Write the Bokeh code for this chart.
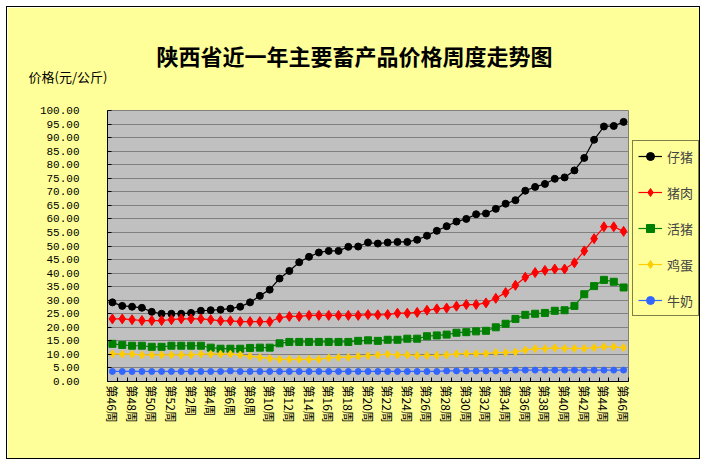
from bokeh.plotting import figure
from bokeh.models import (ColumnDataSource, FixedTicker, Legend, LegendItem, Title, Label,
                          NumeralTickFormatter, Range1d)
from bokeh.embed import file_html
from bokeh.resources import INLINE

weeks = [46, 47, 48, 49, 50, 51, 52, 1, 2, 3, 4, 5, 6, 7, 8, 9, 10, 11, 12, 13, 14, 15, 16,
         17, 18, 19, 20, 21, 22, 23, 24, 25, 26, 27, 28, 29, 30, 31, 32, 33, 34, 35, 36, 37,
         38, 39, 40, 41, 42, 43, 44, 45, 46]

piglet = [29.2, 27.9, 27.6, 27.2, 25.7, 25.0, 25.0, 25.0, 25.3, 26.1, 26.3, 26.5, 26.9, 27.6,
          29.2, 31.6, 33.9, 38.0, 40.8, 44.0, 46.0, 47.6, 48.2, 48.2, 49.7, 49.8, 51.3,
          50.9, 51.3, 51.5, 51.5, 52.3, 53.8, 55.6, 57.3, 59.0, 60.0, 61.7, 62.0, 63.7, 65.6,
          66.9, 70.4, 71.8, 72.9, 74.8, 75.3, 77.9, 82.5, 89.2, 94.1, 94.3, 95.8]
pork = [23.1, 23.1, 22.8, 22.5, 22.5, 22.5, 22.8, 23.1, 23.1, 23.1, 22.8, 22.4, 22.4, 22.1,
        22.1, 22.1, 22.1, 23.5, 24.0, 24.0, 24.4, 24.4, 24.4, 24.4, 24.4, 24.4, 24.7,
        24.6, 24.7, 25.2, 25.2, 25.5, 26.3, 26.8, 27.1, 27.8, 28.4, 28.4, 29.0, 30.7, 32.8,
        35.5, 38.5, 40.2, 41.0, 41.5, 41.5, 43.8, 48.2, 52.7, 57.1, 57.1, 55.4]
hog = [13.9, 13.5, 13.2, 13.2, 12.8, 12.8, 13.2, 13.2, 13.2, 13.2, 12.5, 12.1, 12.1, 12.1,
       12.4, 12.5, 12.5, 14.1, 14.6, 14.6, 14.6, 14.6, 14.6, 14.6, 14.6, 15.0, 15.2,
       15.0, 15.4, 15.4, 15.8, 15.8, 16.7, 17.0, 17.3, 18.0, 18.2, 18.5, 18.7, 20.0, 21.3,
       23.1, 24.6, 25.0, 25.3, 26.1, 26.3, 27.9, 32.2, 35.2, 37.5, 36.8, 34.7]
egg = [10.2, 10.1, 10.1, 9.8, 9.8, 9.8, 9.8, 9.8, 9.8, 10.1, 10.1, 10.1, 10.1, 9.8,
       9.3, 8.9, 8.5, 8.2, 8.2, 8.2, 8.2, 8.2, 8.7, 8.9, 8.9, 9.3, 9.5,
       9.8, 10.1, 9.8, 9.8, 9.6, 9.6, 9.6, 9.8, 10.2, 10.3, 10.3, 10.3, 10.7, 10.7,
       10.9, 11.6, 12.1, 12.1, 12.4, 12.2, 12.2, 12.2, 12.5, 12.8, 12.8, 12.5]
milk = [3.7, 3.7, 3.7, 3.7, 3.7, 3.7, 3.7, 3.7, 3.7, 3.7, 3.7, 3.7, 3.9, 3.7,
        3.7, 3.7, 3.7, 3.7, 3.7, 3.7, 3.7, 3.7, 3.7, 3.7, 3.7, 3.7, 3.7,
        3.7, 3.7, 3.7, 3.7, 3.7, 3.7, 3.7, 3.9, 3.9, 3.9, 3.9, 3.9, 3.9, 3.9,
        4.2, 4.2, 4.2, 4.2, 4.2, 4.2, 4.2, 4.2, 4.2, 4.2, 4.2, 4.2]

series_names = ["仔猪", "猪肉", "活猪", "鸡蛋", "牛奶"]
y_ticks = [0, 5, 10, 15, 20, 25, 30, 35, 40, 45, 50, 55, 60, 65, 70, 75, 80, 85, 90, 95, 100]

title_text = "陕西省近一年主要畜产品价格周度走势图"
ylabel_text = "价格(元/公斤)"

BG = "#FFFF99"
FONT = "Noto Sans CJK SC"

idx = list(range(len(weeks)))
src = ColumnDataSource(dict(x=idx, piglet=piglet, pork=pork, hog=hog, egg=egg, milk=milk))

p = figure(frame_width=521, frame_height=271, output_backend="svg", toolbar_location=None,
           x_range=Range1d(-0.5, len(weeks) - 0.5), y_range=Range1d(0, 100),
           min_border_left=100, min_border_right=75, min_border_top=103, min_border_bottom=81)
p.background_fill_color = "#C0C0C0"
p.border_fill_color = BG
p.outline_line_color = "#808080"
p.styles = {"margin-left": "6px", "margin-top": "6px", "border": "1px solid black",
            "width": "694px", "height": "453px", "overflow": "hidden"}

# title and unit label in the top panel
p.title = Title(text=title_text, align="left", offset=49, text_font=FONT,
                text_font_size="22px", text_font_style="bold", text_color="black",
                standoff=42)
p.add_layout(Label(x=-79, y=34, x_units="screen", y_units="screen", text=ylabel_text,
                   text_font=FONT, text_font_size="13px", text_align="left",
                   text_baseline="middle", text_color="black"), "above")

# grid
p.xgrid.visible = False
p.ygrid.ticker = FixedTicker(ticks=y_ticks)
p.ygrid.grid_line_color = "#808080"
p.ygrid.grid_line_width = 1

# y axis
ya = p.yaxis[0]
ya.ticker = FixedTicker(ticks=y_ticks)
ya.formatter = NumeralTickFormatter(format="0.00")
ya.major_label_text_font = "Liberation Mono"
ya.major_label_text_font_size = "11px"
ya.major_label_text_color = "black"
ya.major_tick_in = 4
ya.major_tick_out = 0
ya.minor_tick_line_color = None
ya.major_label_standoff = 28
ya.axis_line_color = "black"

# x axis
xa = p.xaxis[0]
label_pos = idx[::2]
xa.ticker = FixedTicker(ticks=label_pos, minor_ticks=[i - 0.5 for i in range(len(weeks) + 1)])
xa.major_label_overrides = {i: "第%d周" % weeks[i] for i in label_pos}
xa.major_label_orientation = "vertical"
xa.major_label_text_font = FONT
xa.major_label_text_font_size = "12px"
xa.major_label_text_color = "black"
xa.major_tick_in = 0
xa.major_tick_out = 0
xa.minor_tick_in = 4
xa.minor_tick_out = 0
xa.minor_tick_line_color = "black"
xa.major_label_standoff = 4
xa.axis_line_color = "black"

styles = [
    ("piglet", "#000000", "circle", 7),
    ("pork", "#FF0000", "diamond", 10),
    ("hog", "#008000", "square", 7),
    ("egg", "#FFCC00", "diamond", 8),
    ("milk", "#3366FF", "circle", 6),
]
items = []
for (col, color, marker, size), name in zip(styles, series_names):
    r1 = p.line("x", col, source=src, line_color=color, line_width=1.2)
    r2 = p.scatter("x", col, source=src, marker=marker, size=size,
                   fill_color=color, line_color=color)
    items.append(LegendItem(label=name, renderers=[r1, r2]))

legend = Legend(items=items, location=(4, 65), orientation="vertical")
legend.label_text_font = FONT
legend.label_text_font_size = "13px"
legend.label_height = 20
legend.glyph_height = 20
legend.glyph_width = 24
legend.spacing = 16
legend.padding = 5
legend.margin = 0
legend.label_standoff = 5
legend.border_line_color = "black"
legend.border_line_width = 1
legend.background_fill_color = BG
legend.background_fill_alpha = 1
p.add_layout(legend, "right")

open("out.html", "w").write(file_html(p, INLINE))
